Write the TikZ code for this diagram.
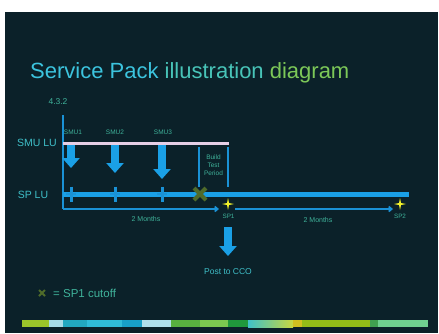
\documentclass[tikz,border=0pt]{standalone}
\usepackage{fontspec}
\setmainfont{Liberation Sans}
\usetikzlibrary{arrows.meta,calc}
\definecolor{bg}{HTML}{0B2129}
\definecolor{axisblue}{HTML}{1A92D6}
\definecolor{fatblue}{HTML}{1AA0E6}
\definecolor{smuline}{HTML}{E6CFE6}
\definecolor{lbl}{HTML}{3FBFC8}
\definecolor{lblg}{HTML}{3FB29A}
\definecolor{tcyan}{HTML}{3CC4DE}
\definecolor{tteal}{HTML}{48C4B8}
\definecolor{tgreen}{HTML}{7CC858}
\definecolor{cutx}{HTML}{4F6B2A}
\definecolor{staryel}{HTML}{F2F22A}
\definecolor{c1}{HTML}{9CC42A}
\definecolor{c2}{HTML}{A8DCE8}
\definecolor{c3}{HTML}{22A8C0}
\definecolor{c4}{HTML}{30BCD8}
\definecolor{c5}{HTML}{18A0C8}
\definecolor{c6}{HTML}{B0E0EC}
\definecolor{c7}{HTML}{58B040}
\definecolor{c8}{HTML}{7CC850}
\definecolor{c9}{HTML}{20983C}
\definecolor{c10a}{HTML}{40C0C8}
\definecolor{c10b}{HTML}{C8D840}
\definecolor{c11}{HTML}{D0C020}
\definecolor{c12}{HTML}{94BC18}
\definecolor{c13}{HTML}{40A050}
\definecolor{c14}{HTML}{70D090}
\begin{document}
\begin{tikzpicture}[x=1pt,y=-1pt,
  lab/.style={text=lbl,inner sep=0pt},
  labg/.style={text=lblg,inner sep=0pt},
  fatarrow/.style={draw=fatblue,line width=8pt,-{Triangle[width=17pt,length=10pt]}},
  thinarrow/.style={draw=axisblue,line width=1.6pt,-{Straight Barb[length=3pt,width=5pt]}},
  tick/.style={draw=axisblue,line width=3pt},
  bar/.style={draw=axisblue,line width=2pt}]
\useasboundingbox (0,0) rectangle (439,333);
\fill[white] (0,0) rectangle (439,333);
\fill[bg] (5,12) rectangle (438,333);
% title
\node[anchor=base west,inner sep=0pt,font=\fontsize{22}{24}\selectfont] (title) at (30,78)
  {\textcolor{tcyan}{Service Pack} \textcolor{tteal}{illustration} \textcolor{tgreen}{diagram}};
\node[labg,font=\fontsize{8.5}{9}\selectfont] (ver) at (58,101.5) {4.3.2};
% axis
\coordinate (axtop) at (63,115);
\coordinate (axbot) at (63,209);
\draw[bar] (axtop) -- (axbot);
% SMU LU
\node[lab,font=\fontsize{10.5}{11}\selectfont] (smulu) at (37,143) {SMU LU};
\coordinate (smuL) at (63,143);
\coordinate (smuR) at (229,143);
\draw[smuline,line width=3pt] (smuL) -- (smuR);
\node[labg,font=\fontsize{6.5}{7}\selectfont] (smu1) at (73,132) {SMU1};
\node[labg,font=\fontsize{6.5}{7}\selectfont] (smu2) at (115,132) {SMU2};
\node[labg,font=\fontsize{6.5}{7}\selectfont] (smu3) at (163,132) {SMU3};
\coordinate (a1s) at (71,145); \coordinate (a1e) at (71,168);
\coordinate (a2s) at (115,145); \coordinate (a2e) at (115,173);
\coordinate (a3s) at (162,145); \coordinate (a3e) at (162,179);
\draw[fatarrow] (a1s) -- (a1e);
\draw[fatarrow] (a2s) -- (a2e);
\draw[fatarrow] (a3s) -- (a3e);
% build test period
\coordinate (b1t) at (199,147); \coordinate (b1b) at (199,187);
\coordinate (b2t) at (228,147); \coordinate (b2b) at (228,187);
\draw[bar] (b1t) -- (b1b);
\draw[bar] (b2t) -- (b2b);
\node[labg,font=\fontsize{6.5}{8}\selectfont,align=center] (btp) at (213.5,165) {Build\\Test\\Period};
% SP LU
\node[lab,font=\fontsize{10.5}{11}\selectfont] (splu) at (33,195) {SP LU};
\coordinate (spL) at (63,194);
\coordinate (spR) at (409,194);
\draw[fatblue,line width=5pt] (spL) -- (spR);
\foreach \x in {71,115,162}{\draw[tick] (\x,186.5) -- (\x,201.5); \draw[tick,line width=2pt] (\x-5,194) -- (\x+5,194);}
% cutoff X
\coordinate (cut) at (200,194);
\draw[cutx,line width=4pt] ($(cut)+(-6,-6)$) -- ($(cut)+(6,6)$) ($(cut)+(-6,6)$) -- ($(cut)+(6,-6)$);
% timeline arrows
\coordinate (sp1a) at (219,209);
\coordinate (sp2s) at (235,209);
\coordinate (sp2a) at (393,209);
\draw[thinarrow] (axbot) -- (sp1a);
\draw[thinarrow] (sp2s) -- (sp2a);
\node[labg,font=\fontsize{7}{8}\selectfont] (m1) at (146,219) {2 Months};
\node[labg,font=\fontsize{7}{8}\selectfont] (m2) at (318,220) {2 Months};
% stars
\foreach \cx in {228,400}{
  \fill[staryel] (\cx,198) -- (\cx+1,203) -- (\cx+6,204) -- (\cx+1,205) -- (\cx,210) -- (\cx-1,205) -- (\cx-6,204) -- (\cx-1,203) -- cycle;}
\node[labg,font=\fontsize{6.3}{7}\selectfont] (sp1) at (228.5,216) {SP1};
\node[labg,font=\fontsize{6.3}{7}\selectfont] (sp2) at (400,216) {SP2};
% post to CCO
\coordinate (ps) at (228,227);
\coordinate (pe) at (228,256);
\draw[fatarrow] (ps) -- (pe);
\node[lab,font=\fontsize{8.5}{9}\selectfont] (cco) at (228,272) {Post to CCO};
% legend
\coordinate (lx) at (42,293);
\draw[cutx,line width=2pt] ($(lx)+(-3,-3)$) -- ($(lx)+(3,3)$) ($(lx)+(-3,3)$) -- ($(lx)+(3,-3)$);
\node[labg,anchor=west,font=\fontsize{11.5}{12}\selectfont] (leg) at (53,293.5) {= SP1 cutoff};
% colour strip
\def\sy{320}\def\sh{327}
\fill[c1] (22,\sy) rectangle (49,\sh);
\fill[c2] (49,\sy) rectangle (63,\sh);
\fill[c3] (63,\sy) rectangle (87,\sh);
\fill[c4] (87,\sy) rectangle (122,\sh);
\fill[c5] (122,\sy) rectangle (142,\sh);
\fill[c6] (142,\sy) rectangle (171,\sh);
\fill[c7] (171,\sy) rectangle (200,\sh);
\fill[c8] (200,\sy) rectangle (228,\sh);
\fill[c9] (228,\sy) rectangle (248,\sh);
\shade[left color=c10a,right color=c10b] (248,\sy) rectangle (293,\sh);
\fill[c11] (293,\sy) rectangle (302,\sh);
\fill[c12] (302,\sy) rectangle (370,\sh);
\fill[c13] (370,\sy) rectangle (378,\sh);
\fill[c14] (378,\sy) rectangle (428,\sh);
\end{tikzpicture}
\end{document}
